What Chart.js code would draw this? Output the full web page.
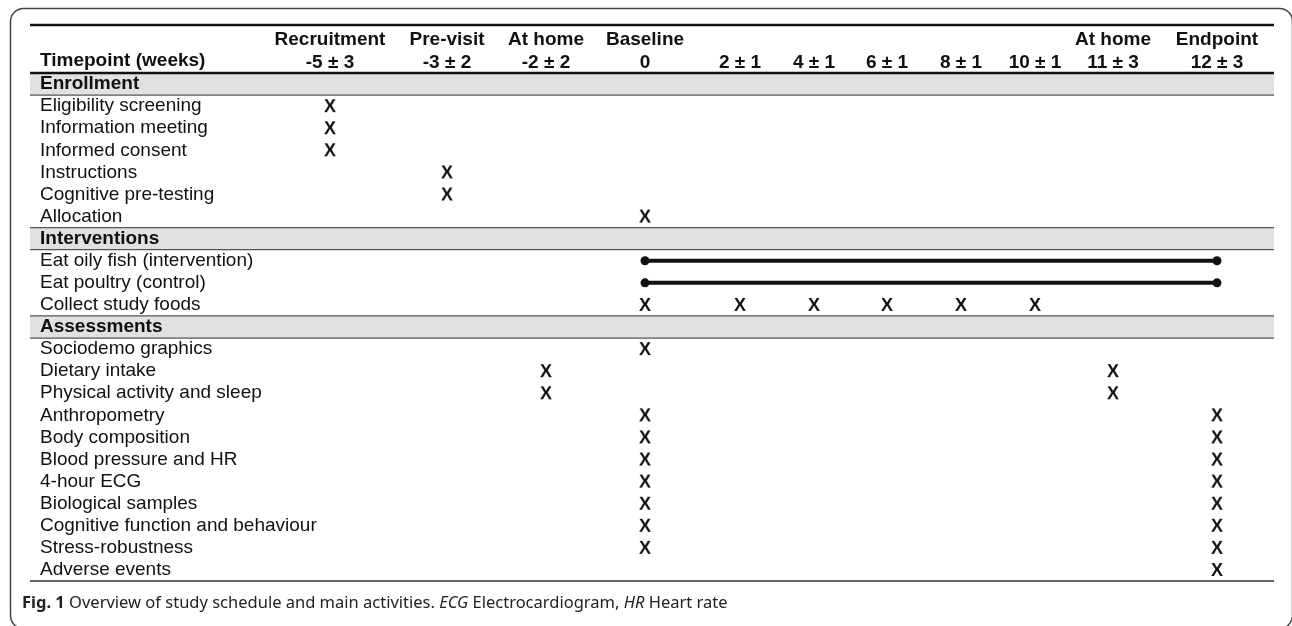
<!DOCTYPE html>
<html>
<head>
<meta charset="utf-8">
<script src="https://cdn.jsdelivr.net/npm/chart.js@4.4.1/dist/chart.umd.min.js"></script>
<style>
	body { margin: 0; background: #fff; }
	#wrap { position: relative; width: 1292px; height: 626px; overflow: hidden; }
	#caption {
		position: absolute; left: 22px; top: 590px;
		font-family: 'Noto Sans', sans-serif; font-size: 16.5px; color: #222; white-space: nowrap;
	}
</style>
</head>
<body>
<div id="wrap">
	<canvas id="myChart" width="1292" height="626"></canvas>
	<div id="caption"><b>Fig. 1</b> Overview of study schedule and main activities. <i>ECG</i> Electrocardiogram, <i>HR</i> Heart rate</div>
</div>
<script>
const columns = [
	['Recruitment', '-5 ± 3'], ['Pre-visit', '-3 ± 2'], ['At home', '-2 ± 2'], ['Baseline', '0'],
	['', '2 ± 1'], ['', '4 ± 1'], ['', '6 ± 1'], ['', '8 ± 1'], ['', '10 ± 1'],
	['At home', '11 ± 3'], ['Endpoint', '12 ± 3'],
];
const rows = [
	'Enrollment', 'Eligibility screening', 'Information meeting', 'Informed consent',
	'Instructions', 'Cognitive pre-testing', 'Allocation',
	'Interventions', 'Eat oily fish (intervention)', 'Eat poultry (control)', 'Collect study foods',
	'Assessments', 'Sociodemo graphics', 'Dietary intake', 'Physical activity and sleep',
	'Anthropometry', 'Body composition', 'Blood pressure and HR', '4-hour ECG',
	'Biological samples', 'Cognitive function and behaviour', 'Stress-robustness', 'Adverse events',
];
const sections = ['Enrollment', 'Interventions', 'Assessments'];
// column indexes marked with X, one list per row
const rowMarks = [
	[], [0], [0], [0], [1], [1], [3],
	[], [], [], [3, 4, 5, 6, 7, 8],
	[], [3], [2, 9], [2, 9], [3, 10], [3, 10], [3, 10], [3, 10], [3, 10], [3, 10], [3, 10], [10],
];
// continuous periods: [row, from column, to column]
const periods = [[8, 3, 10], [9, 3, 10]];

// layout: column centres across the table width (0..1244)
const colX = [300, 417, 516, 615, 710, 784, 857, 931, 1005, 1083, 1187];
const FONT = "'Liberation Sans', Arial, sans-serif";

const xGlyph = document.createElement('canvas');
xGlyph.width = 20;
xGlyph.height = 20;
const gctx = xGlyph.getContext('2d');
gctx.font = 'bold 18px ' + FONT;
gctx.textAlign = 'center';
gctx.textBaseline = 'middle';
gctx.fillStyle = '#111';
gctx.fillText('X', 10, 11);

const markPoints = [];
rowMarks.forEach((cols, r) => cols.forEach(c => markPoints.push({ x: colX[c], y: r })));

const periodSets = periods.map(p => ({
	type: 'line',
	data: [{ x: colX[p[1]], y: p[0] }, { x: colX[p[2]], y: p[0] }],
	borderColor: '#111',
	borderWidth: 4,
	pointRadius: 4.5,
	pointBackgroundColor: '#111',
	pointBorderWidth: 0,
}));

const tablePlugin = {
	id: 'table',
	beforeDraw: chart => {
		const ctx = chart.ctx;
		const y = chart.scales.y;
		const left = 30, right = 1274;
		const half = Math.abs(y.getPixelForValue(0.5) - y.getPixelForValue(0));
		ctx.save();
		// frame
		ctx.strokeStyle = '#444';
		ctx.lineWidth = 1.5;
		ctx.beginPath();
		ctx.roundRect(10.5, 8.5, 1282, 620, 13);
		ctx.stroke();
		// section bands
		rows.forEach((name, i) => {
			if (!sections.includes(name)) return;
			const c = y.getPixelForValue(i);
			ctx.fillStyle = '#e1e1e1';
			ctx.fillRect(left, c - half, right - left, half * 2);
			ctx.strokeStyle = '#555';
			ctx.lineWidth = 1.3;
			ctx.beginPath();
			if (i > 0) {
				ctx.moveTo(left, c - half);
				ctx.lineTo(right, c - half);
			}
			ctx.moveTo(left, c + half);
			ctx.lineTo(right, c + half);
			ctx.stroke();
		});
		// rules
		ctx.strokeStyle = '#111';
		ctx.lineWidth = 2.5;
		ctx.beginPath();
		ctx.moveTo(left, 25);
		ctx.lineTo(right, 25);
		ctx.moveTo(left, chart.chartArea.top);
		ctx.lineTo(right, chart.chartArea.top);
		ctx.stroke();
		ctx.strokeStyle = '#333';
		ctx.lineWidth = 1.5;
		ctx.beginPath();
		ctx.moveTo(left, chart.chartArea.bottom);
		ctx.lineTo(right, chart.chartArea.bottom);
		ctx.stroke();
		// header row title
		ctx.fillStyle = '#111';
		ctx.font = 'bold 19px ' + FONT;
		ctx.textBaseline = 'middle';
		ctx.fillText('Timepoint (weeks)', 40, 61);
		ctx.restore();
	},
};

const chart = new Chart(document.getElementById('myChart'), {
	type: 'scatter',
	data: {
		datasets: [
			{
				data: markPoints,
				pointStyle: xGlyph,
				pointRadius: 10,
			},
			...periodSets,
		],
	},
	options: {
		responsive: false,
		animation: false,
		events: [],
		layout: { padding: { left: 30, right: 18, top: 25, bottom: 45 } },
		plugins: {
			legend: { display: false },
			tooltip: { enabled: false },
		},
		scales: {
			x: {
				type: 'linear',
				position: 'top',
				min: 0,
				max: 1244,
				grid: { display: false },
				border: { display: false },
				afterFit: scale => { scale.height = 48; },
				afterBuildTicks: scale => { scale.ticks = colX.map(v => ({ value: v })); },
				ticks: {
					autoSkip: false,
					maxRotation: 0,
					padding: -9,
					color: '#111',
					font: { family: FONT, size: 19, weight: 'bold', lineHeight: 1.2 },
					callback: (value, index) => columns[index],
				},
			},
			y: {
				type: 'linear',
				reverse: true,
				min: -0.5,
				max: rows.length - 0.5,
				grid: { display: false },
				border: { display: false },
				afterFit: scale => { scale.width = 0; },
				afterBuildTicks: scale => { scale.ticks = rows.map((r, i) => ({ value: i })); },
				ticks: {
					mirror: true,
					padding: 10,
					autoSkip: false,
					color: '#111',
					font: context => ({
						family: FONT,
						size: 19,
						weight: sections.includes(rows[context.index]) ? 'bold' : 'normal',
					}),
					callback: (value, index) => rows[index],
				},
			},
		},
	},
	plugins: [tablePlugin],
});
</script>
</body>
</html>
